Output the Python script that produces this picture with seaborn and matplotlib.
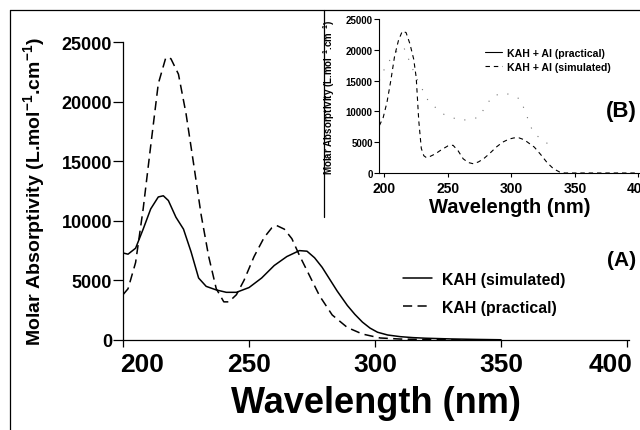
import numpy as np
import pandas as pd
import seaborn as sns
import matplotlib.pyplot as plt
from matplotlib.lines import Line2D
from matplotlib.patches import Rectangle
from matplotlib.transforms import ScaledTranslation

# (A) KAH - main panel
wl_kah_sim = [200, 202, 205, 208, 211, 214, 216, 218, 221, 224, 227, 230, 233, 237, 241, 245,
              250, 255, 260, 265, 270, 273, 276, 279, 282, 285, 289, 292, 295, 298, 301, 305,
              310, 315, 320, 330, 340, 350]
eps_kah_sim = [7300, 7200, 7700, 9300, 11000, 12000, 12100, 11700, 10300, 9300, 7400, 5200, 4500,
               4200, 4000, 4000, 4400, 5200, 6250, 7000, 7500, 7450, 6900, 6100, 5100, 4100, 2900,
               2150, 1500, 1000, 650, 420, 280, 200, 150, 90, 50, 20]

wl_kah_prac = [200, 202, 205, 208, 211, 214, 217, 219, 222, 225, 228, 231, 234, 237, 240, 242,
               245, 248, 252, 256, 259, 261, 264, 267, 270, 274, 278, 283, 289, 295, 302, 310,
               320, 330, 340]
eps_kah_prac = [3800, 4300, 6500, 11000, 16300, 21500, 23700, 23600, 22300, 19000, 14800, 10500,
                7000, 4300, 3200, 3200, 3800, 5000, 7000, 8600, 9400, 9600, 9300, 8500, 7100, 5400,
                3700, 2100, 1050, 500, 170, 80, 40, 15, 0]

# (B) KAH + Al - inset
wl_al_sim = [196, 199, 202, 205, 208, 211, 214, 217, 220, 223, 225, 227, 229, 231, 233, 236, 240,
             245, 250, 254, 258, 262, 266, 270, 274, 278, 283, 288, 293, 298, 302, 306, 310, 314,
             318, 323, 328, 333, 338, 342, 350, 360, 380, 400]
eps_al_sim = [7700, 9000, 11500, 15000, 19000, 21500, 23000, 22800, 21000, 18500, 15500, 8500, 4000,
              2800, 2500, 2700, 3100, 3800, 4400, 4500, 3600, 2300, 1700, 1500, 1800, 2300, 3200,
              4200, 5000, 5500, 5700, 5700, 5400, 4800, 4200, 3000, 1700, 700, 150, 0, 0, 0, 0, 0]

wl_al_prac = [196, 198, 202, 206, 210, 215, 225, 235, 247, 260, 274, 285, 295, 307, 317, 325, 330]
eps_al_prac = [15000, 16000, 17800, 18700, 19800, 20500, 15500, 11500, 9500, 8500, 9000, 12500,
               13000, 12000, 6600, 5200, 4600]

sns.set_theme(style="ticks")
plt.rcParams['font.family'] = ['Liberation Sans', 'DejaVu Sans']
plt.rcParams['font.weight'] = 'bold'
plt.rcParams['mathtext.fontset'] = 'custom'
plt.rcParams['mathtext.rm'] = 'Liberation Sans:bold'
plt.rcParams['mathtext.bf'] = 'Liberation Sans:bold'
plt.rcParams['mathtext.default'] = 'rm'
for k in ['text.color', 'axes.labelcolor', 'xtick.color', 'ytick.color', 'axes.edgecolor']:
    plt.rcParams[k] = 'black'

W, H = 640, 431
fig = plt.figure(figsize=(6.4, 4.31), dpi=100)
fig.patch.set_facecolor('white')

ylab = 'Molar Absorptivity (L.mol$^{-1}$.cm$^{-1}$)'

# ---- main panel
ax = fig.add_axes([123 / W, 1 - 341 / H, 505.6 / W, 298 / H])
ax.set_facecolor('white')
df_sim = pd.DataFrame({'wl': wl_kah_sim, 'eps': eps_kah_sim})
df_prac = pd.DataFrame({'wl': wl_kah_prac, 'eps': eps_kah_prac})
sns.lineplot(data=df_sim, x='wl', y='eps', ax=ax, color='black', lw=1.1, label='KAH (simulated)')
sns.lineplot(data=df_prac, x='wl', y='eps', ax=ax, color='black', lw=1.1,
             linestyle=(0, (6, 3.5)), label='KAH (practical)')
ax.set_xlim(200, 400.6)
ax.set_ylim(0, 25000)
ax.set_xticks([200, 250, 300, 350, 400])
ax.set_yticks([0, 5000, 10000, 15000, 20000, 25000])
sns.despine(ax=ax)
for s in ['left', 'bottom']:
    ax.spines[s].set_linewidth(0.9)
ax.tick_params(axis='y', labelsize=13, length=7, width=0.9, pad=1)
ax.tick_params(axis='x', labelsize=19, length=5, width=0.9, pad=4)
ax.set_xlabel('Wavelength (nm)', fontsize=26, fontweight='bold', labelpad=6)
ax.set_ylabel(ylab, fontsize=14, fontweight='bold', labelpad=10)
xl = ax.get_xticklabels()
xl[0].set_transform(xl[0].get_transform() + ScaledTranslation(0.19, 0, fig.dpi_scale_trans))
xl[-1].set_transform(xl[-1].get_transform() + ScaledTranslation(-0.17, 0, fig.dpi_scale_trans))
ax.legend(loc='upper left', bbox_to_anchor=(403 / W, 1 - 273 / H), bbox_transform=fig.transFigure,
          frameon=False, borderpad=0, borderaxespad=0, handlelength=1.85, handletextpad=0.6,
          labelspacing=0.8, prop={'size': 11.4, 'weight': 'bold'})

# ---- inset frame
fig.add_artist(Rectangle((324 / W, 1 - 218 / H), (W - 324) / W, 207 / H, transform=fig.transFigure,
                         facecolor='white', edgecolor='none', zorder=1.5))
fig.add_artist(Line2D([324 / W, 324 / W], [1 - 218 / H, 1 - 11 / H], transform=fig.transFigure,
                      color='black', lw=0.9, zorder=1.6))

# ---- inset (B)
axi = fig.add_axes([379 / W, 1 - 174 / H, 261 / W, 154 / H], zorder=3)
axi.set_facecolor('none')
df_al_prac = pd.DataFrame({'wl': wl_al_prac, 'eps': eps_al_prac})
df_al_sim = pd.DataFrame({'wl': wl_al_sim, 'eps': eps_al_sim})
sns.lineplot(data=df_al_prac, x='wl', y='eps', ax=axi, color='0.45', lw=0.8,
             linestyle=(0, (1, 9)), label='KAH + Al (practical)')
sns.lineplot(data=df_al_sim, x='wl', y='eps', ax=axi, color='black', lw=0.8,
             linestyle=(0, (4, 3.5)), label='KAH + Al (simulated)')
axi.set_xlim(195.7, 401.2)
axi.set_ylim(0, 25000)
axi.set_xticks([200, 250, 300, 350, 400])
axi.set_yticks([0, 5000, 10000, 15000, 20000, 25000])
sns.despine(ax=axi)
for s in ['left', 'bottom']:
    axi.spines[s].set_linewidth(0.8)
axi.tick_params(axis='y', labelsize=7, length=3.5, width=0.8, pad=1)
axi.tick_params(axis='x', labelsize=10, length=3, width=0.8, pad=3)
axi.set_xlabel('Wavelength (nm)', fontsize=14.5, fontweight='bold', labelpad=1)
axi.set_ylabel(ylab, fontsize=7, fontweight='bold', labelpad=6)
hs, ls = axi.get_legend_handles_labels()
hs[0] = Line2D([], [], color='black', lw=0.8)
axi.legend(hs, ls, loc='upper left', bbox_to_anchor=(485 / W, 1 - 49 / H),
           bbox_transform=fig.transFigure, frameon=False, borderpad=0, borderaxespad=0,
           handlelength=1.6, handletextpad=0.45, labelspacing=0.35,
           prop={'size': 7.6, 'weight': 'bold'})

fig.text(622 / W, 1 - 260 / H, '(A)', ha='center', va='center', fontsize=15, fontweight='bold')
fig.text(621 / W, 1 - 111 / H, '(B)', ha='center', va='center', fontsize=16, fontweight='bold')

# outer border
fig.add_artist(Line2D([10 / W, 10 / W], [0, 1 - 11 / H], transform=fig.transFigure, color='black', lw=0.9))
fig.add_artist(Line2D([10 / W, 1], [1 - 11 / H, 1 - 11 / H], transform=fig.transFigure, color='black', lw=0.9))

fig.savefig('out.png', dpi=100)
